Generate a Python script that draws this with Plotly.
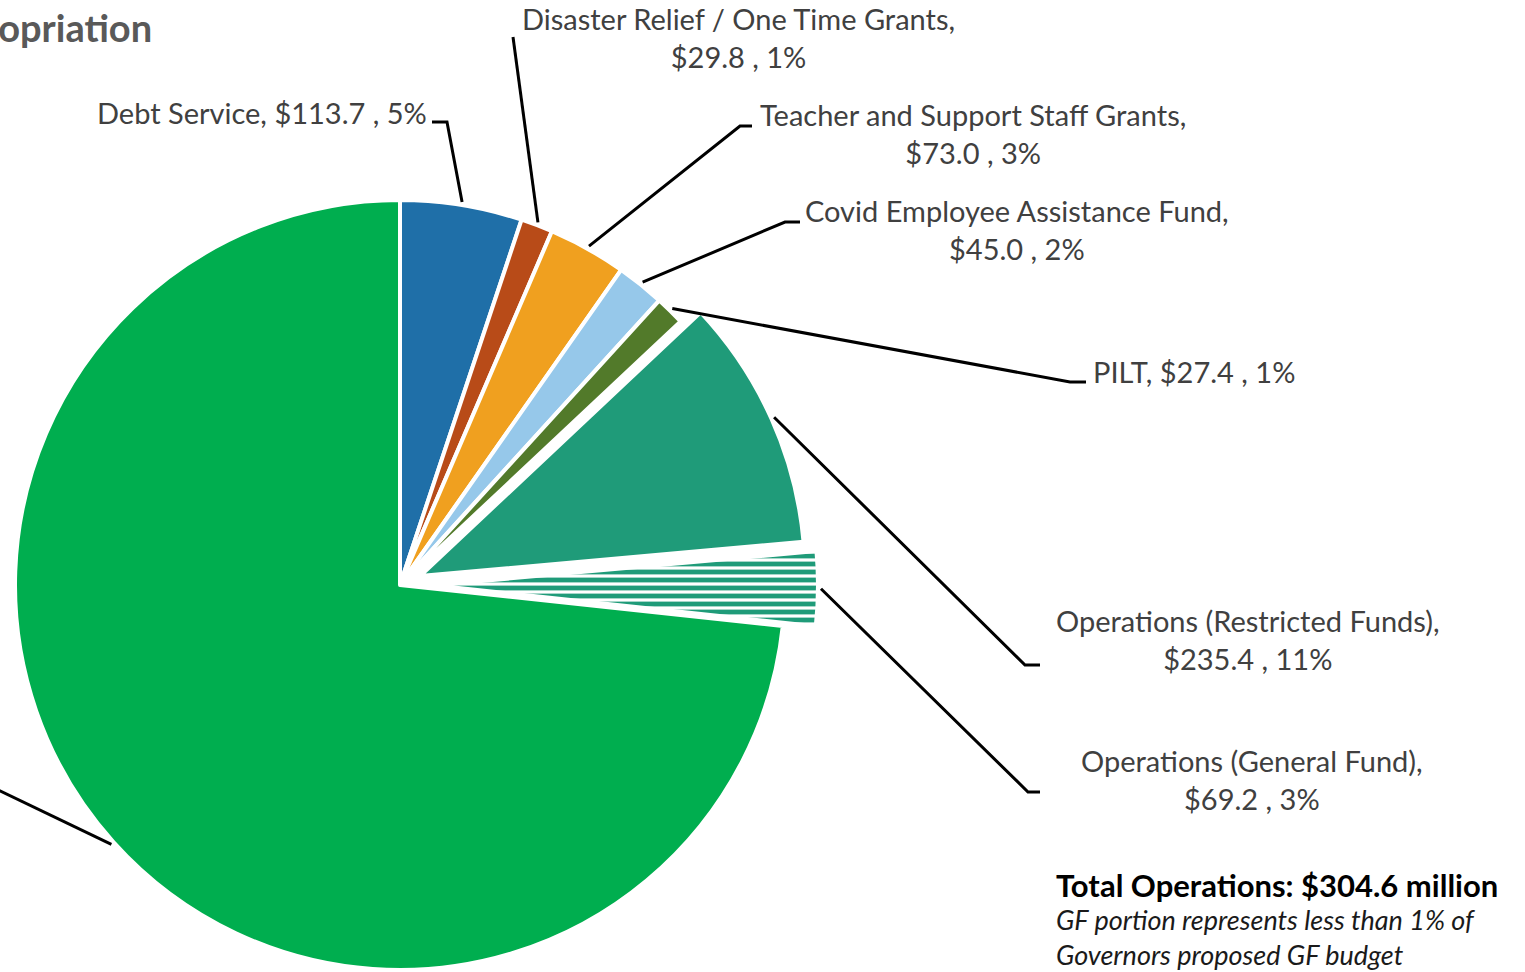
import math
import plotly.graph_objects as go

# ---- data (millions of dollars) ----
categories = [
    "Debt Service",
    "Disaster Relief / One Time Grants",
    "Teacher and Support Staff Grants",
    "Covid Employee Assistance Fund",
    "PILT",
    "Operations (Restricted Funds)",
    "Operations (General Fund)",
    "Other Appropriation",
]
amounts = [113.7, 29.8, 73.0, 45.0, 27.4, 235.4, 69.2, 1629.5]
colors = ["#1F6FA8", "#B84B18", "#F0A01F", "#96C8EA", "#527A2A",
          "#1F9B79", "#1F9B79", "#00AE4F"]
# label line breaks (after the name, before value)
two_line = [False, True, True, True, False, True, True, False]
operations = ["Operations (Restricted Funds)", "Operations (General Fund)"]

# ---- geometry (pixels) ----
W, H = 1525, 972
CX, CY, R = 400, 585, 385
pull_px = {"Operations (Restricted Funds)": 22, "Operations (General Fund)": 33}

total = sum(amounts)
starts = [sum(amounts[:i]) / total * 360 for i in range(len(amounts))]
mids = [s + a / total * 180 for s, a in zip(starts, amounts)]


def offset(name):
    i = categories.index(name)
    d = pull_px.get(name, 0)
    th = math.radians(mids[i])
    return d * math.sin(th), -d * math.cos(th)


def domain_for(cx, cy):
    yb = H - cy
    hh = R + 1.5
    return dict(
        x=[max(0, (cx - R) / W), min(1, (cx + R) / W)],
        y=[max(0, (yb - hh) / H), min(1, (yb + hh) / H)],
    )


def px(x, y):
    return x / W, 1 - y / H


CLEAR = "rgba(0,0,0,0)"
fig = go.Figure()

# main pie: all slices that are not pulled out
main_cols = [CLEAR if c in pull_px else col for c, col in zip(categories, colors)]
main_w = [0 if c in pull_px else 4 for c in categories]
fig.add_trace(go.Pie(
    labels=categories, values=amounts, sort=False, direction="clockwise",
    rotation=0, textinfo="none", showlegend=False,
    marker=dict(colors=main_cols, line=dict(color="white", width=main_w)),
    domain=domain_for(CX, CY),
))

# exploded slices, each drawn on its own offset pie
for name in operations:
    dx, dy = offset(name)
    cols = [col if c == name else CLEAR for c, col in zip(categories, colors)]
    widths = [4 if c == name else 0 for c in categories]
    marker = dict(colors=cols, line=dict(color="white", width=widths))
    if name == "Operations (General Fund)":
        marker["pattern"] = dict(
            shape=["-" if c == name else "" for c in categories],
            fgcolor=colors[categories.index(name)], bgcolor="white",
            size=8, solidity=0.6, fillmode="replace",
        )
    fig.add_trace(go.Pie(
        labels=categories, values=amounts, sort=False, direction="clockwise",
        rotation=0, textinfo="none", showlegend=False, marker=marker,
        domain=domain_for(CX + dx, CY + dy),
    ))

# ---- labels with leader lines ----
# (elbow points, text x, text y, xanchor)
label_layout = {
    "Debt Service": ([(447, 122), (432, 122)], 429, 112, "right"),
    "Disaster Relief / One Time Grants": ([(513, 37)], 738, 38, "center"),
    "Teacher and Support Staff Grants": ([(740, 126), (752, 126)], 973, 133, "center"),
    "Covid Employee Assistance Fund": ([(785, 222), (800, 222)], 1017, 229, "center"),
    "PILT": ([(1070, 382), (1086, 382)], 1091, 372, "left"),
    "Operations (Restricted Funds)": ([(1025, 665), (1040, 665)], 1248, 639, "center"),
    "Operations (General Fund)": ([(1028, 792), (1040, 792)], 1252, 779, "center"),
    "Other Appropriation": ([(-60, 762)], None, None, None),
}

LABEL_FONT = dict(family="Lato, sans-serif", size=29, color="#404040")
shapes, annotations = [], []
for i, name in enumerate(categories):
    elbows, tx, ty, anchor = label_layout[name]
    dx, dy = offset(name)
    th = math.radians(mids[i])
    sx = CX + dx + (R + 3) * math.sin(th)
    sy = CY + dy - (R + 3) * math.cos(th)
    pts = [(sx, sy)] + elbows
    path = "M " + " L ".join(f"{px(x, y)[0]:.5f},{px(x, y)[1]:.5f}" for x, y in pts)
    shapes.append(dict(type="path", xref="paper", yref="paper", path=path,
                       line=dict(color="black", width=3)))
    if tx is None:
        continue
    pct = round(amounts[i] / total * 100)
    sep = ",<br>" if two_line[i] else ", "
    text = f"{name}{sep}${amounts[i]:.1f} , {pct}%"
    ax, ay = px(tx, ty)
    annotations.append(dict(text=text, x=ax, y=ay, xref="paper", yref="paper",
                            xanchor=anchor, yanchor="middle", showarrow=False,
                            align="center", font=LABEL_FONT))

# title (runs off the left edge)
tx, ty = px(154, 27)
annotations.append(dict(text="<b>Appropriation</b>", x=tx, y=ty, xref="paper",
                        yref="paper", xanchor="right", yanchor="middle",
                        showarrow=False,
                        font=dict(family="Lato, sans-serif", size=38, color="#595959")))

# operations note
ops_total = sum(amounts[categories.index(n)] for n in operations)
nx, ny = px(1054, 885)
annotations.append(dict(text=f"<b>Total Operations: ${ops_total:.1f} million</b>",
                        x=nx, y=ny, xref="paper", yref="paper", xanchor="left",
                        yanchor="middle", showarrow=False,
                        font=dict(family="Lato, sans-serif", size=31, color="black")))
nx, ny = px(1054, 937)
annotations.append(dict(text="<i>GF portion represents less than 1% of<br>Governors proposed GF budget</i>",
                        x=nx, y=ny, xref="paper", yref="paper", xanchor="left",
                        yanchor="middle", align="left", showarrow=False,
                        font=dict(family="Lato, sans-serif", size=27, color="#1a1a1a")))

fig.update_layout(
    width=W, height=H, margin=dict(l=0, r=0, t=0, b=0),
    paper_bgcolor="white", plot_bgcolor="white",
    shapes=shapes, annotations=annotations,
)

fig.write_html("out.html")
